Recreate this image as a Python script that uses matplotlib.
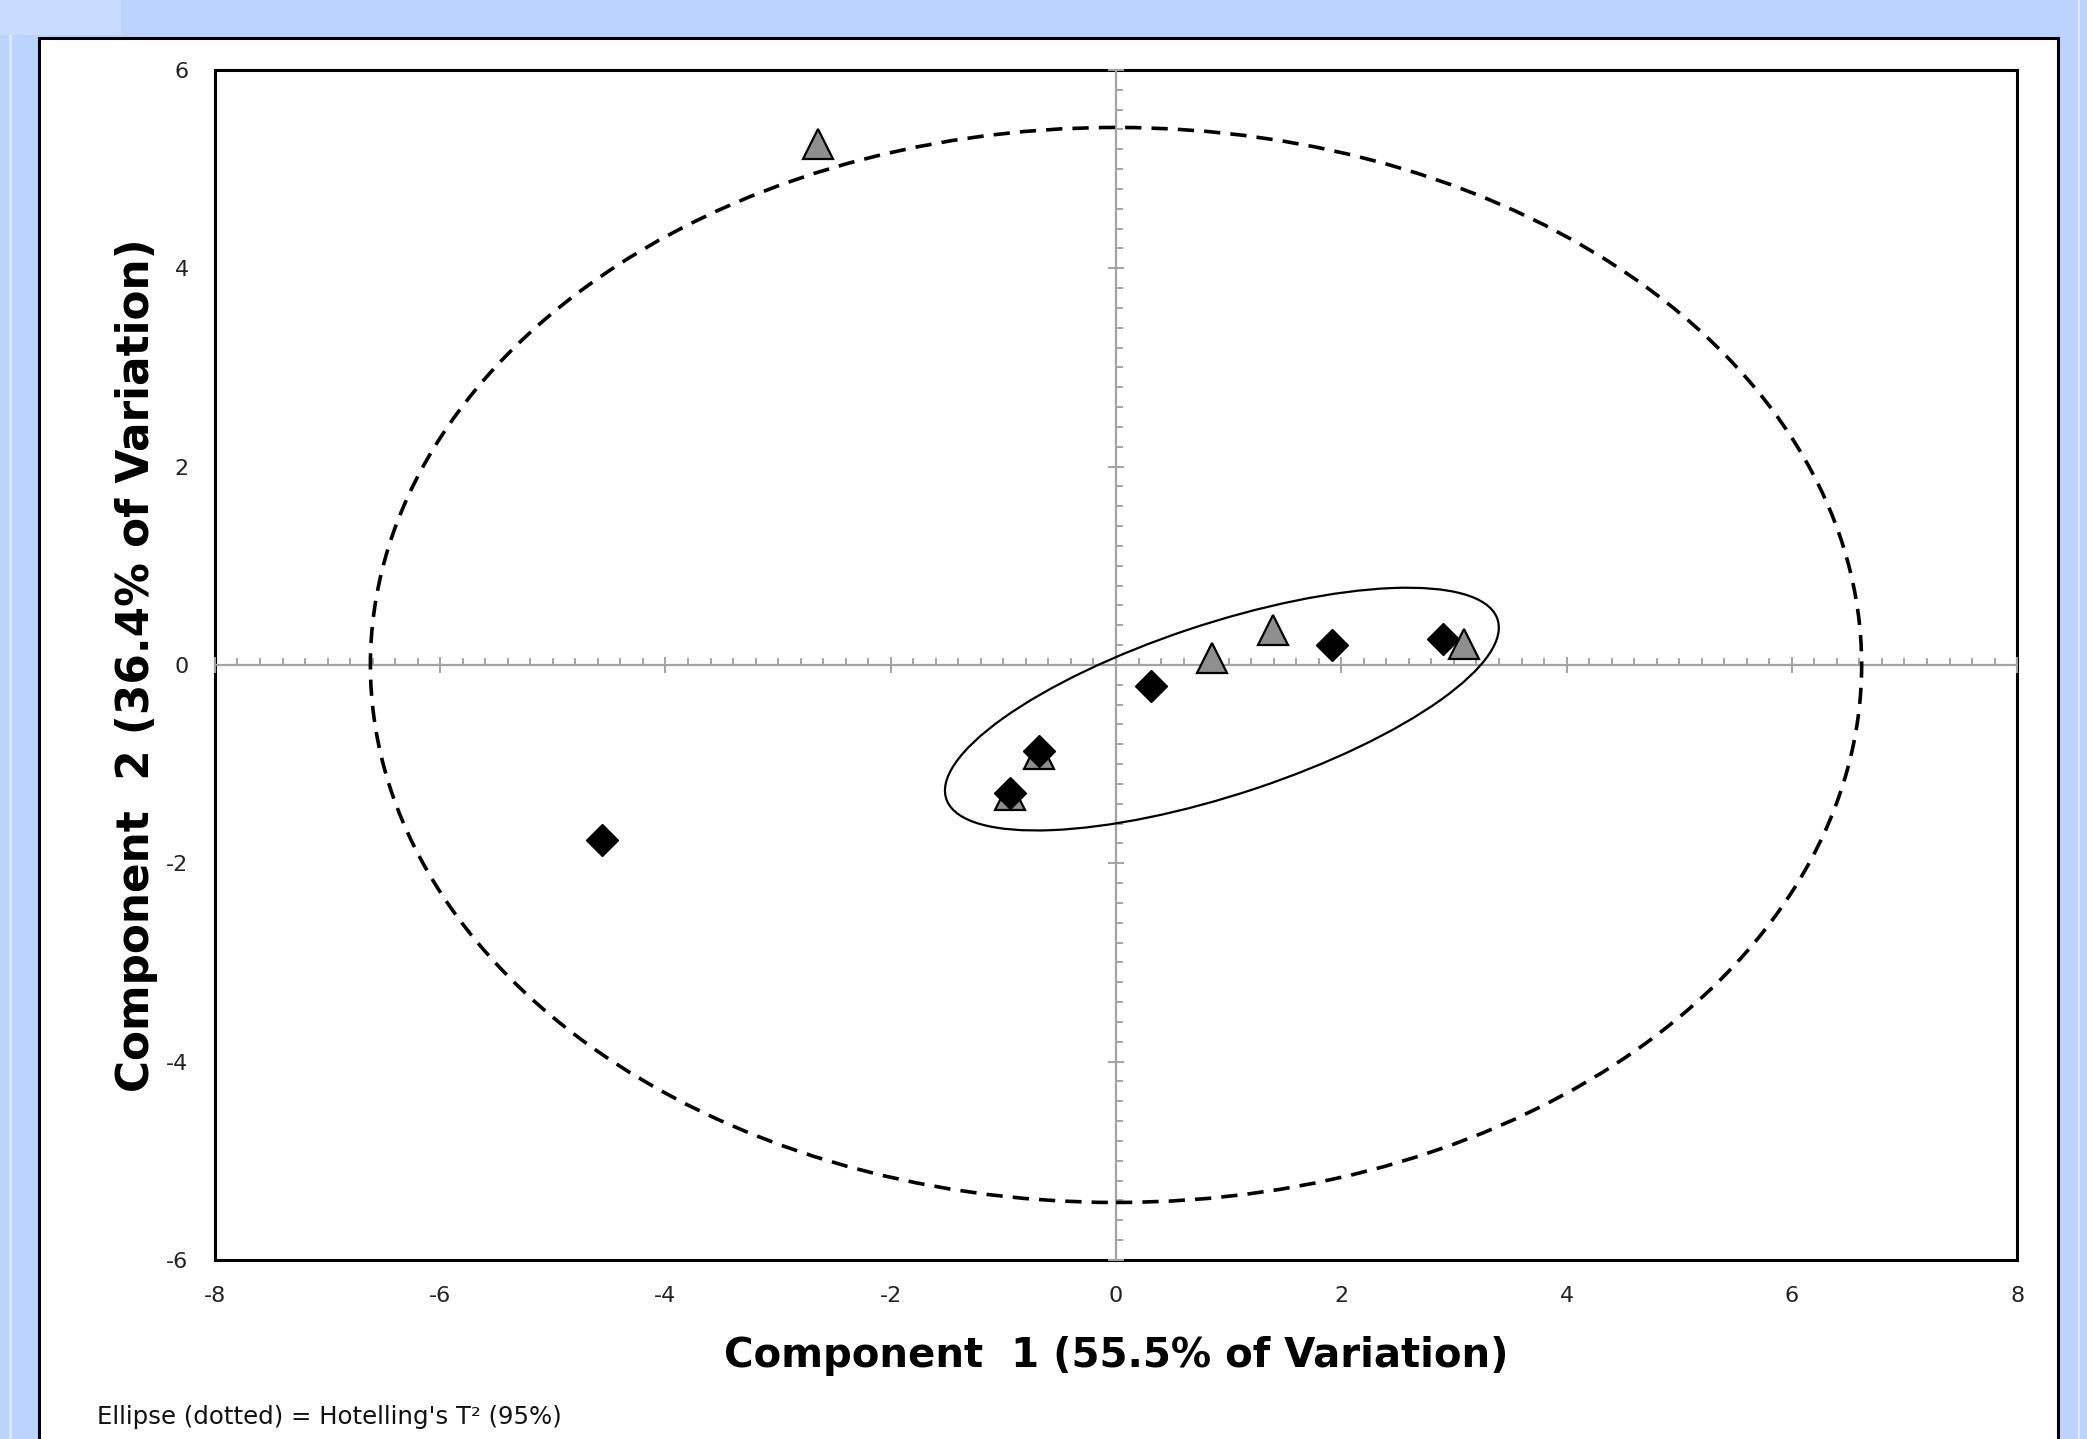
import numpy as np
import matplotlib
matplotlib.use("Agg")
import matplotlib.pyplot as plt
from matplotlib.patches import Ellipse, Rectangle
from matplotlib.ticker import MultipleLocator

# ---- data ----
# black diamonds
diamond_x = [-4.56, -0.94, -0.68, 0.31, 1.92, 2.90]
diamond_y = [-1.77, -1.29, -0.87, -0.21, 0.20, 0.26]
# gray triangles
triangle_x = [-2.65, -0.94, -0.68, 0.85, 1.39, 3.09]
triangle_y = [5.25, -1.31, -0.90, 0.07, 0.35, 0.21]

# Hotelling's T2 ellipse (dashed) and the inner solid ellipse
t2_center = (0.0, 0.0)
t2_width, t2_height = 13.24, 10.84
inner_center = (0.94, -0.445)
inner_width, inner_height, inner_angle = 5.22, 1.71, 20.8

x_ticks = [-8, -6, -4, -2, 0, 2, 4, 6, 8]
y_ticks = [-6, -4, -2, 0, 2, 4, 6]
x_label = "Component  1 (55.5% of Variation)"
y_label = "Component  2 (36.4% of Variation)"
note = "Ellipse (dotted) = Hotelling's T\u00b2 (95%)"

BG_BLUE = "#bcd3fe"
AXIS_GRAY = "#a3a3a3"
FONT = ["DejaVu Sans"]

plt.rcParams["axes.unicode_minus"] = False


def draw_background(fig):
    """Blue slide background with the white panel."""
    fig.patch.set_facecolor(BG_BLUE)
    # lighter strips at the top-left corner / edges
    fig.patches.append(Rectangle((0, 0.976), 0.058, 0.024, transform=fig.transFigure,
                                 facecolor="#c9dbff", edgecolor="none", zorder=-3))
    fig.patches.append(Rectangle((0.0045, 0), 0.0012, 0.976, transform=fig.transFigure,
                                 facecolor="#dde8ff", edgecolor="none", zorder=-3))
    fig.patches.append(Rectangle((0.9955, 0), 0.0012, 1.0, transform=fig.transFigure,
                                 facecolor="#dde8ff", edgecolor="none", zorder=-3))
    # white panel with black border (runs off the bottom)
    fig.patches.append(Rectangle((0.0187, -0.05), 0.9674, 1.0236, transform=fig.transFigure,
                                 facecolor="white", edgecolor="black", linewidth=2.2, zorder=-2))


def main():
    fig = plt.figure(figsize=(20.87, 14.39), dpi=100)
    draw_background(fig)

    pos = [0.1030, 0.1244, 0.8635, 0.8270]
    xlim, ylim = (-8, 8), (-6, 6)

    # frame axes: black box + tick labels only
    ax = fig.add_axes(pos, zorder=1)
    ax.set_xlim(*xlim)
    ax.set_ylim(*ylim)
    ax.set_xticks(x_ticks)
    ax.set_yticks(y_ticks)
    ax.minorticks_off()
    ax.tick_params(length=0, labelsize=16, labelcolor="#222222", pad=19)
    for sp in ax.spines.values():
        sp.set_linewidth(2.2)
        sp.set_color("black")
    ax.set_xlabel(x_label, fontsize=29, fontweight="bold", family=FONT)
    ax.set_ylabel(y_label, fontsize=31.5, fontweight="bold", family=FONT)
    ax.xaxis.set_label_coords(0.5, -0.0807)
    ax.yaxis.set_label_coords(-0.0433, 0.5)
    ax.xaxis.label.set_va("center")
    ax.yaxis.label.set_va("center")

    # overlay axes: gray cross axes through zero with tick marks, plus the data
    ax2 = fig.add_axes(pos, zorder=2)
    ax2.set_xlim(*xlim)
    ax2.set_ylim(*ylim)
    ax2.patch.set_visible(False)
    ax2.spines["left"].set_position("zero")
    ax2.spines["bottom"].set_position("zero")
    ax2.spines["top"].set_visible(False)
    ax2.spines["right"].set_visible(False)
    for side in ["left", "bottom"]:
        ax2.spines[side].set_color(AXIS_GRAY)
        ax2.spines[side].set_linewidth(1.6)
    ax2.xaxis.set_major_locator(MultipleLocator(2))
    ax2.yaxis.set_major_locator(MultipleLocator(2))
    ax2.xaxis.set_minor_locator(MultipleLocator(0.2))
    ax2.yaxis.set_minor_locator(MultipleLocator(0.2))
    ax2.tick_params(which="both", color=AXIS_GRAY, width=1.4,
                    labelbottom=False, labelleft=False)
    ax2.tick_params(which="minor", direction="in", length=5)
    ax2.tick_params(which="major", direction="inout", length=11)

    # ellipses
    t2 = Ellipse(t2_center, t2_width, t2_height, angle=0, fill=False,
                 edgecolor="black", linewidth=2.6, linestyle=(0, (4.5, 2.8)), zorder=3)
    ax2.add_patch(t2)
    inner = Ellipse(inner_center, inner_width, inner_height, angle=inner_angle,
                    fill=False, edgecolor="black", linewidth=1.6, zorder=3)
    ax2.add_patch(inner)

    # points: triangles under diamonds
    ax2.plot(triangle_x, triangle_y, linestyle="none", marker="^", markersize=22,
             markerfacecolor="#8f8f8f", markeredgecolor="black", markeredgewidth=1.6, zorder=4)
    ax2.plot(diamond_x, diamond_y, linestyle="none", marker="D", markersize=16,
             markerfacecolor="black", markeredgecolor="black", zorder=5)

    fig.text(0.0465, 0.0155, note, fontsize=17.6, family=FONT, color="#111111",
             ha="left", va="center")

    fig.savefig("out.png", dpi=100, facecolor=fig.get_facecolor())


if __name__ == "__main__":
    main()
